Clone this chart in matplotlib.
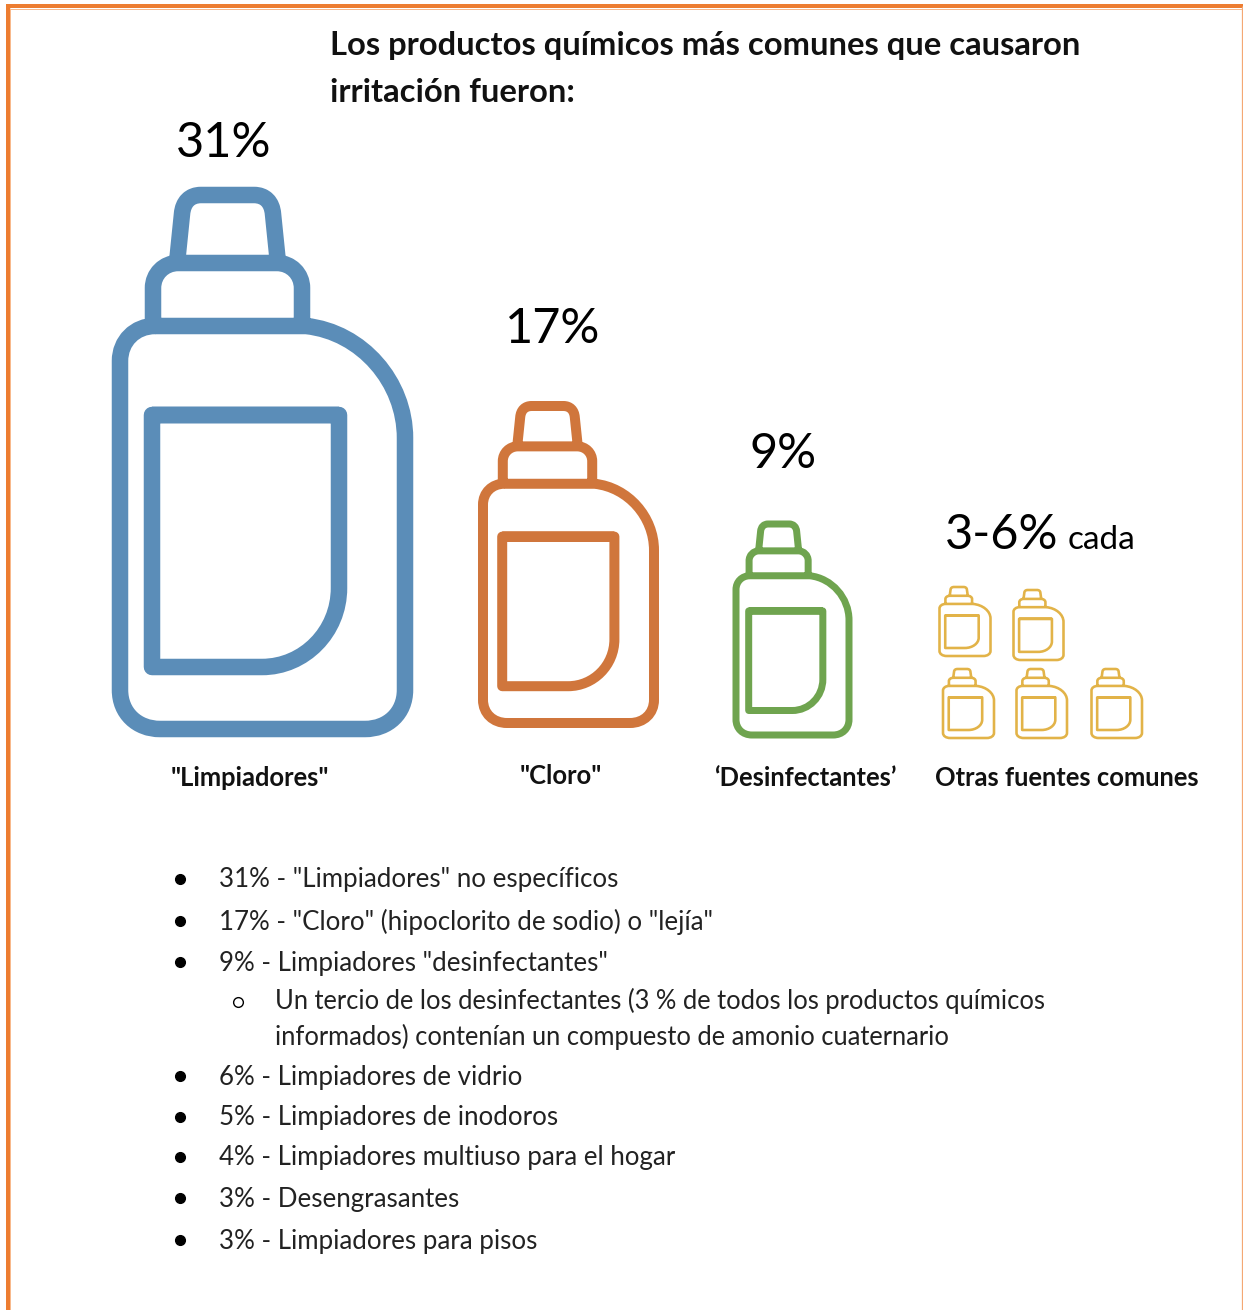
import matplotlib
matplotlib.use("Agg")
import matplotlib.pyplot as plt
from matplotlib.path import Path
from matplotlib.patches import PathPatch

plt.rcParams['font.family'] = ['Lato', 'DejaVu Sans']

title_lines = ["Los productos químicos más comunes que causaron", "irritación fueron:"]

percent_labels = ["31%", "17%", "9%", "3-6%"]
category_labels = ['"Limpiadores"', '"Cloro"', '‘Desinfectantes’', 'Otras fuentes comunes']
bottle_colors = ["#5B8DB8", "#D0763C", "#6FA44F", "#E2B348"]

bullets = [
    '31% - "Limpiadores" no específicos',
    '17% - "Cloro" (hipoclorito de sodio) o "lejía"',
    '9% - Limpiadores "desinfectantes"',
    '6% - Limpiadores de vidrio',
    '5% - Limpiadores de inodoros',
    '4% - Limpiadores multiuso para el hogar',
    '3% - Desengrasantes',
    '3% - Limpiadores para pisos',
]
bullet_y = [880, 922, 963, 1077, 1118, 1158, 1199, 1241]
sub_bullet = ["Un tercio de los desinfectantes (3 % de todos los productos químicos",
              "informados) contenían un compuesto de amonio cuaternario"]
sub_bullet_y = [1001, 1037]

# left, right, top, bottom of the bottle outline in pixels
big_boxes = [(120, 405, 195, 729), (483, 654, 406, 723), (736, 849, 524, 735)]
big_widths = [16.5, 10, 7]
small_boxes = [(939.5, 990.5, 587, 656), (1013.5, 1063.5, 590, 660),
               (943, 994, 669, 738), (1016.5, 1067, 669, 738), (1091.5, 1142, 669, 738)]

M, L, C = Path.MOVETO, Path.LINETO, Path.CURVE4
# bottle template, same pixel frame as the big blue one
template = [
    # cap
    (M, 177, 263), (L, 182, 214), (C, 183, 202), (C, 190, 195), (C, 201, 195),
    (L, 254, 195), (C, 265, 195), (C, 272, 202), (C, 273, 214), (L, 278, 263),
    # shoulder
    (M, 153, 326), (L, 153, 288), (C, 153, 274), (C, 164, 263), (C, 178, 263),
    (L, 277, 263), (C, 291, 263), (C, 302, 274), (C, 302, 288), (L, 302, 326),
    # body
    (M, 155, 326), (L, 306, 326), (C, 362, 332), (C, 405, 382), (C, 405, 438),
    (L, 405, 690), (C, 405, 713), (C, 388, 729), (C, 365, 729),
    (L, 160, 729), (C, 137, 729), (C, 120, 713), (C, 120, 690),
    (L, 120, 361), (C, 120, 341), (C, 135, 326), (C, 155, 326),
    # label
    (M, 152, 415), (L, 339, 415), (L, 339, 588), (C, 339, 632), (C, 304, 667), (C, 262, 667),
    (L, 152, 667), (L, 152, 415), (L, 339, 415),
]


def bottle_path(box):
    left, right, top, bottom = box
    verts = []
    codes = []
    for code, x, y in template:
        verts.append((left + (x - 120) / 285 * (right - left),
                      top + (y - 195) / 534 * (bottom - top)))
        codes.append(code)
    return Path(verts, codes)


def draw_bottle(ax, box, color, lw_px):
    # linewidth is in points, figure is 100 dpi
    ax.add_patch(PathPatch(bottle_path(box), fill=False, edgecolor=color,
                           lw=lw_px * 0.72, joinstyle='round', capstyle='butt'))


def main():
    fig = plt.figure(figsize=(12.43, 13.10), dpi=100)
    ax = fig.add_axes([0, 0, 1, 1])
    ax.set_xlim(0, 1243)
    ax.set_ylim(1310, 0)
    ax.axis('off')

    # frame
    ax.plot([10.5, 10.5], [8, 1310], color="#F8B98C", lw=0.72, solid_capstyle='butt')
    ax.plot([10, 1242], [8.5, 8.5], color="#F8B98C", lw=0.72, solid_capstyle='butt')
    ax.plot([8, 8], [4, 1310], color="#ED7D31", lw=2.88, solid_capstyle='butt')
    ax.plot([6, 1243], [6, 6], color="#ED7D31", lw=2.88, solid_capstyle='butt')
    ax.plot([1242.4, 1242.4], [6, 1310], color="#F4A874", lw=0.9, solid_capstyle='butt')

    for line, y in zip(title_lines, [46, 92]):
        ax.text(330, y, line, fontsize=23.55, fontweight='bold', color="#111111", va='center', ha='left')

    for x, y, lab in zip([224, 553, 783], [143, 329, 454], percent_labels[:3]):
        ax.text(x, y, lab, fontsize=35, color="black", ha='center', va='center')
    ax.text(945, 535, percent_labels[3], fontsize=35, color="black", ha='left', va='center')
    ax.text(1068, 540, "cada", fontsize=24, color="black", ha='left', va='center')

    for box, color, lw in zip(big_boxes, bottle_colors, big_widths):
        draw_bottle(ax, box, color, lw)
    for box in small_boxes:
        draw_bottle(ax, box, bottle_colors[3], 2.6)

    for x, y, lab in zip([250, 561, 805, 1067], [778, 776, 778, 778], category_labels):
        ax.text(x, y, lab, fontsize=18.4, fontweight='bold', color="#111111", ha='center', va='center')

    for lab, y in zip(bullets, bullet_y):
        ax.plot([180], [y - 1], 'o', color="black", ms=7)
        ax.text(219, y, lab, fontsize=18.6, color="#222222", ha='left', va='center')

    ax.plot([238], [sub_bullet_y[0] + 1], 'o', mfc='white', mec="black", ms=7, mew=1)
    for lab, y in zip(sub_bullet, sub_bullet_y):
        ax.text(275, y, lab, fontsize=18.4, color="#222222", ha='left', va='center')

    fig.savefig("out.png", dpi=100)


if __name__ == "__main__":
    main()
